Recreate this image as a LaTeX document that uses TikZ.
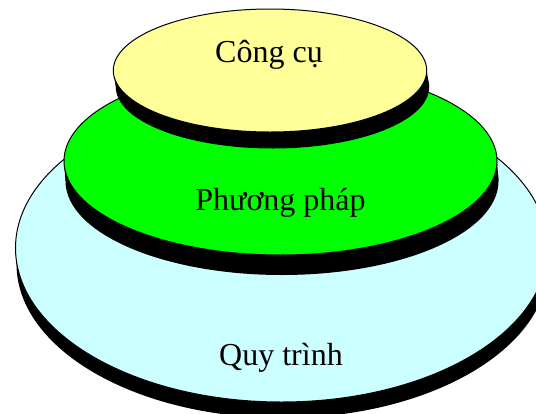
\documentclass[tikz,border=0pt]{standalone}
\usepackage{fontspec}
\setmainfont{Liberation Serif}
\definecolor{toolyellow}{HTML}{FFFF99}
\definecolor{methodgreen}{HTML}{00FF00}
\definecolor{processcyan}{HTML}{CCFFFF}
\tikzset{
  disklabel/.style={anchor=base, inner sep=0pt, text=black,
    font=\fontsize{32}{38}\selectfont},
  diskface/.style={draw=black, line width=1pt},
}
% One stacked disk: black side (shifted copy joined by a band), then the top face.
% #1 centre x, #2 centre y, #3 rx, #4 ry, #5 dx, #6 dy, #7 colour
\newcommand{\stackdisk}[7]{%
  \fill[black] (#1+#5,#2+#6) ellipse [x radius=#3, y radius=#4];
  \fill[black] (#1-#3,#2) -- (#1+#3,#2) -- (#1+#3+#5,#2+#6) -- (#1-#3+#5,#2+#6) -- cycle;
  \filldraw[diskface, fill=#7] (#1,#2) ellipse [x radius=#3, y radius=#4];
}
\begin{document}
\begin{tikzpicture}[x=1pt, y=-1pt]
  \useasboundingbox (0,0) rectangle (536,413);
  \clip (0,0) rectangle (536,413);
  % bottom layer
  \stackdisk{281.5}{248}{266}{154}{1}{16}{processcyan}
  % middle layer
  \stackdisk{280.5}{161}{216.5}{94}{1.5}{20}{methodgreen}
  % top layer
  \stackdisk{270}{70.5}{156.7}{61.5}{2.5}{16.5}{toolyellow}
  % layer names
  \node[disklabel] (tools)   at (269,62)    {Công cụ};
  \node[disklabel] (methods) at (280.5,210) {Phương pháp};
  \node[disklabel] (process) at (281,365)   {Quy trình};
\end{tikzpicture}
\end{document}
